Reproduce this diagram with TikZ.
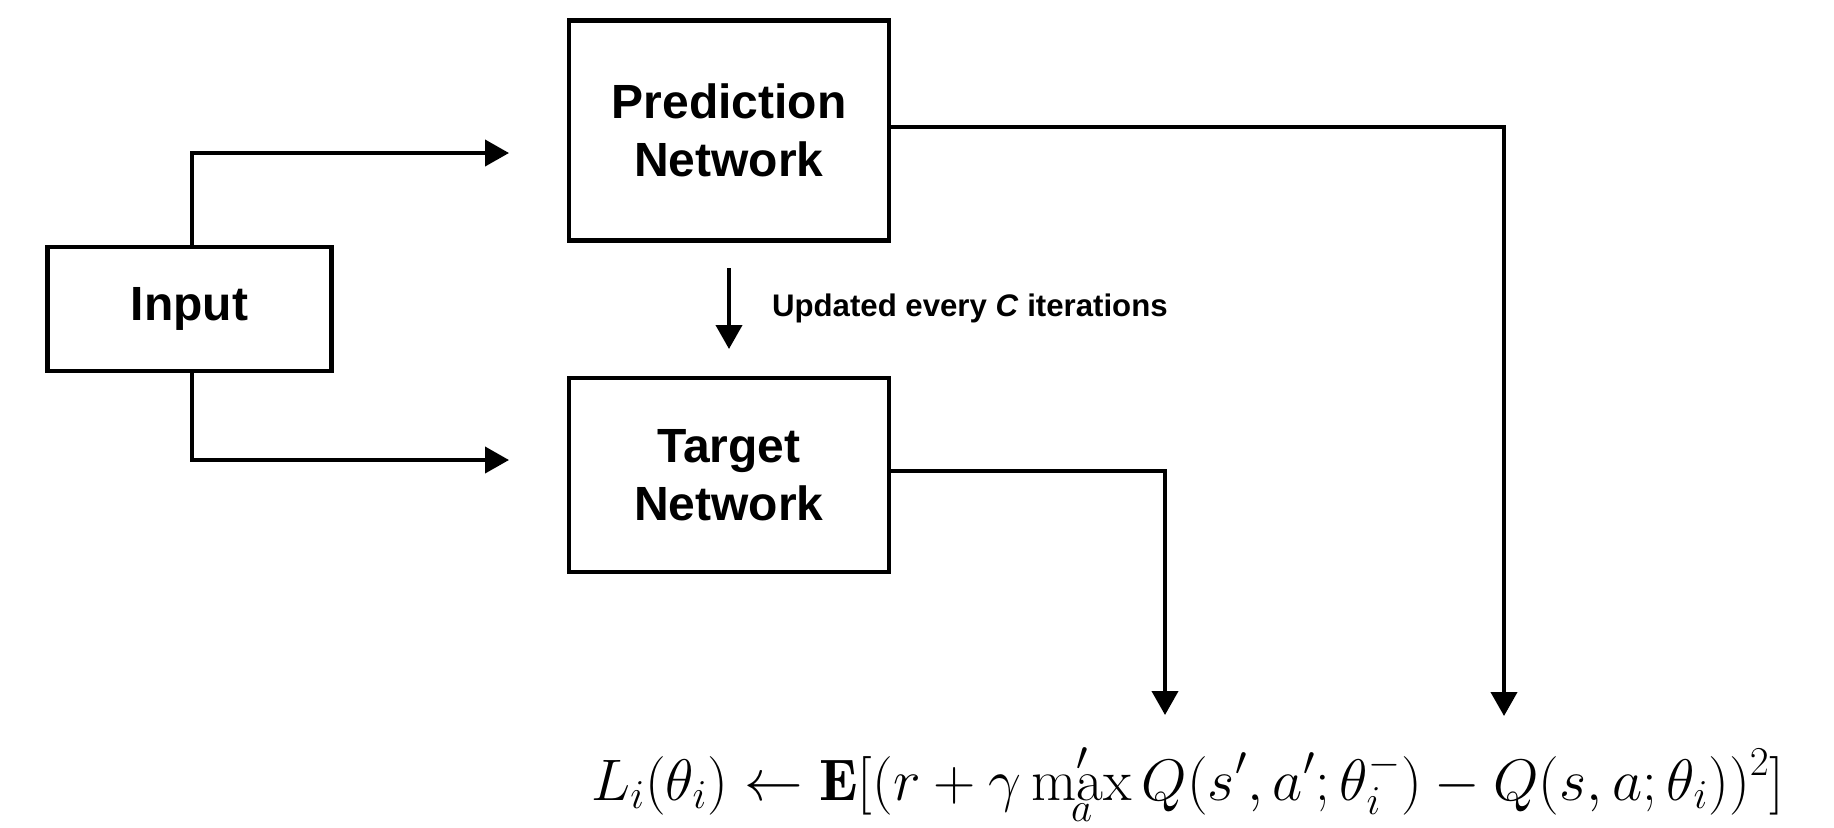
\RequirePackage{fix-cm}
\documentclass[tikz,border=0pt]{standalone}
\usepackage{fontspec}
\usetikzlibrary{arrows.meta}
\newfontfamily\labelfont{Liberation Sans}

\begin{document}
\begin{tikzpicture}[x=0.5pt,y=-0.5pt,
  netbox/.style={draw, line width=2.2pt, align=center, inner sep=0pt,
    font=\labelfont\bfseries\fontsize{24}{29}\selectfont},
  flow/.style={line width=2pt,
    -{Triangle[length=12pt,width=13pt]}}]

  % canvas
  \fill[white] (0,0) rectangle (1834,827);
  \useasboundingbox (0,0) rectangle (1834,827);

  % blocks
  \node[netbox, minimum width=142pt, minimum height=62pt] (inp) at (189.5,309) {Input};
  \node[netbox, minimum width=160pt, minimum height=110pt] (pred) at (729,130.5) {Prediction\\Network};
  \node[netbox, minimum width=160pt, minimum height=97pt] (targ) at (729,475) {Target\\Network};

  % loss
  \node[anchor=base west, inner sep=0pt, font=\fontsize{29.3}{35}\selectfont] (loss) at (591,800)
    {$\displaystyle L_i(\theta_i) \leftarrow \mathbf{E}[(r+\gamma\max'_{a} Q(s',a';\theta_i^-) - Q(s,a;\theta_i))^2]$};

  % free ends
  \coordinate (pin) at (509,153);
  \coordinate (tin) at (509,460);
  \coordinate (ua) at (729,268);
  \coordinate (ub) at (729,349);
  \coordinate (pq) at (1504,716);
  \coordinate (tq) at (1165,715);

  % inputs
  \draw[flow] ([xshift=1pt]inp.north) |- (pin);
  \draw[flow] ([xshift=1pt]inp.south) |- (tin);

  % weight copy
  \draw[flow] (ua) -- (ub) node[midway, right=20.5pt, inner sep=0pt,
    font=\labelfont\bfseries\fontsize{15.6}{19}\selectfont] (upd) {Updated every \textit{C} iterations};

  % outputs into the loss
  \draw[flow] ([yshift=2pt]pred.east) -| (pq);
  \draw[flow] ([yshift=2pt]targ.east) -| (tq);
\end{tikzpicture}
\end{document}
